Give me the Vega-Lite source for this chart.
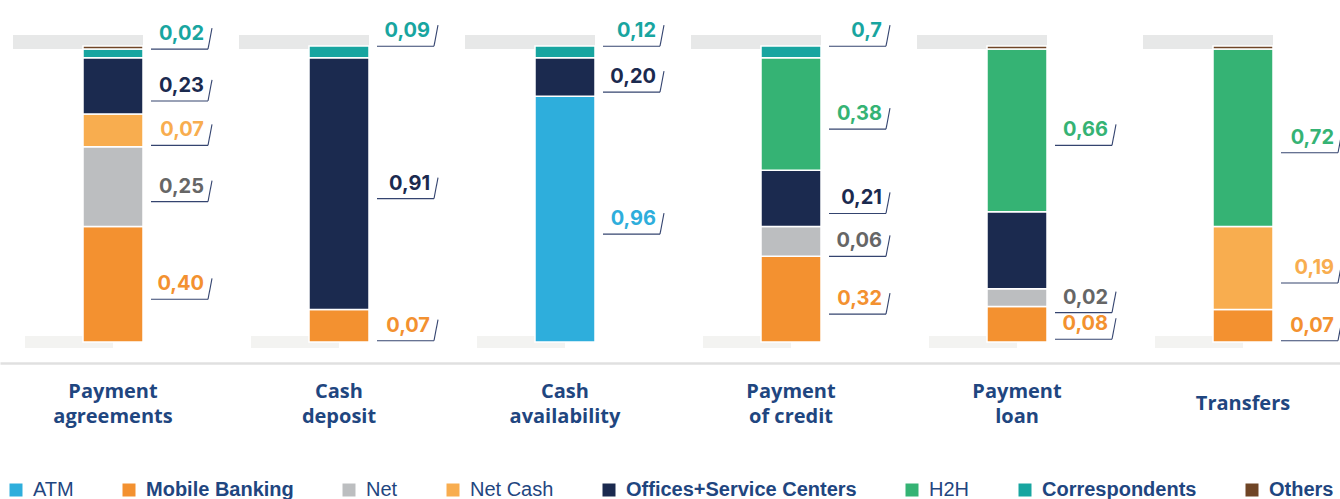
{
  "$schema": "https://vega.github.io/schema/vega-lite/v6.json",
  "autosize": {"type": "none"},
  "width": 1340,
  "height": 296,
  "padding": {"left": 0, "top": 46, "right": 0, "bottom": 157},
  "background": "white",
  "config": {"view": {"stroke": null}},
  "data": {
    "values": [
      {"cat": "Payment agreements", "channel": "Mobile Banking", "share": 0.39, "label": "0,40"},
      {"cat": "Payment agreements", "channel": "Net", "share": 0.27, "label": "0,25"},
      {"cat": "Payment agreements", "channel": "Net Cash", "share": 0.11, "label": "0,07"},
      {"cat": "Payment agreements", "channel": "Offices+Service Centers", "share": 0.19, "label": "0,23"},
      {"cat": "Payment agreements", "channel": "Correspondents", "share": 0.03, "label": "0,02"},
      {"cat": "Payment agreements", "channel": "Others", "share": 0.01},
      {"cat": "Cash deposit", "channel": "Mobile Banking", "share": 0.11, "label": "0,07"},
      {"cat": "Cash deposit", "channel": "Offices+Service Centers", "share": 0.85, "label": "0,91"},
      {"cat": "Cash deposit", "channel": "Correspondents", "share": 0.04, "label": "0,09"},
      {"cat": "Cash availability", "channel": "ATM", "share": 0.83, "label": "0,96"},
      {"cat": "Cash availability", "channel": "Offices+Service Centers", "share": 0.13, "label": "0,20"},
      {"cat": "Cash availability", "channel": "Correspondents", "share": 0.04, "label": "0,12"},
      {"cat": "Payment of credit", "channel": "Mobile Banking", "share": 0.29, "label": "0,32"},
      {"cat": "Payment of credit", "channel": "Net", "share": 0.10, "label": "0,06"},
      {"cat": "Payment of credit", "channel": "Offices+Service Centers", "share": 0.19, "label": "0,21"},
      {"cat": "Payment of credit", "channel": "H2H", "share": 0.38, "label": "0,38"},
      {"cat": "Payment of credit", "channel": "Correspondents", "share": 0.04, "label": "0,7"},
      {"cat": "Payment loan", "channel": "Mobile Banking", "share": 0.12, "label": "0,08"},
      {"cat": "Payment loan", "channel": "Net", "share": 0.06, "label": "0,02"},
      {"cat": "Payment loan", "channel": "Offices+Service Centers", "share": 0.26},
      {"cat": "Payment loan", "channel": "H2H", "share": 0.55, "label": "0,66"},
      {"cat": "Payment loan", "channel": "Others", "share": 0.01},
      {"cat": "Transfers", "channel": "Mobile Banking", "share": 0.11, "label": "0,07"},
      {"cat": "Transfers", "channel": "Net Cash", "share": 0.28, "label": "0,19"},
      {"cat": "Transfers", "channel": "H2H", "share": 0.60, "label": "0,72"},
      {"cat": "Transfers", "channel": "Others", "share": 0.01}
    ]
  },
  "transform": [
    {"calculate": "indexof(['ATM','Mobile Banking','Net','Net Cash','Offices+Service Centers','H2H','Correspondents','Others'], datum.channel)", "as": "k"},
    {"stack": "share", "groupby": ["cat"], "sort": [{"field": "k", "order": "ascending"}], "as": ["y0", "y1"]},
    {"calculate": "datum.channel == 'Correspondents' ? datum.y1 + 0.05 : (datum.y0 + datum.y1) / 2", "as": "ly"}
  ],
  "encoding": {
    "x": {
      "field": "cat",
      "type": "nominal",
      "sort": null,
      "scale": {"range": [0, 1356], "paddingInner": 0, "paddingOuter": 0},
      "axis": {
        "title": null,
        "domainColor": "#e0e0e0",
        "domainWidth": 2.5,
        "offset": 21,
        "ticks": false,
        "tickSize": 0,
        "labelPadding": {"condition": {"test": "datum.value == 'Transfers'", "value": 40}, "value": 28},
        "labelAngle": 0,
        "labelFont": "Open Sans",
        "labelFontWeight": 700,
        "labelFontSize": 20,
        "labelColor": "#1f4680",
        "labelBaseline": "middle",
        "labelLineHeight": 25,
        "labelLimit": 400,
        "labelExpr": "datum.value == 'Payment of credit' ? ['Payment', 'of credit'] : split(datum.value, ' ')"
      }
    }
  },
  "layer": [
    {
      "transform": [{"filter": "datum.y1 > 0.99"}],
      "mark": {"type": "rule", "color": "#e7e8e8", "strokeWidth": 14, "xOffset": -100, "x2Offset": 30, "yOffset": -4, "y2Offset": -4},
      "encoding": {
        "y": {"field": "y1", "type": "quantitative", "scale": {"domain": [0, 1], "nice": false, "zero": false}, "axis": null},
        "y2": {"field": "y1"},
        "x2": {"field": "cat"}
      }
    },
    {
      "transform": [{"filter": "datum.y0 == 0"}],
      "mark": {"type": "rule", "color": "#f3f3f1", "strokeWidth": 12, "xOffset": -88, "x2Offset": 0, "yOffset": 0, "y2Offset": 0},
      "encoding": {
        "y": {"field": "y0", "type": "quantitative", "axis": null},
        "y2": {"field": "y0"},
        "x2": {"field": "cat"}
      }
    },
    {
      "mark": {"type": "bar", "size": 60, "stroke": "white", "strokeWidth": 1.5},
      "encoding": {
        "y": {"field": "y0", "type": "quantitative", "scale": {"domain": [0, 1], "nice": false, "zero": false}, "axis": null},
        "y2": {"field": "y1"},
        "color": {
          "field": "channel",
          "type": "nominal",
          "scale": {
            "domain": ["ATM", "Mobile Banking", "Net", "Net Cash", "Offices+Service Centers", "H2H", "Correspondents", "Others"],
            "range": ["#2eaedc", "#f39130", "#bcbec0", "#f8ad4f", "#1b2a4f", "#35b374", "#18a5a0", "#6f4526"]
          },
          "legend": {
            "orient": "none",
            "legendX": 6,
            "legendY": 434,
            "direction": "horizontal",
            "title": null,
            "padding": 0,
            "symbolType": "square",
            "symbolSize": 169,
            "symbolStrokeWidth": 0,
            "labelFont": "Liberation Sans",
            "labelFontSize": 20,
            "labelColor": "#1f4680",
            "labelFontWeight": {"expr": "indexof(['ATM','Net','Net Cash','H2H'], datum.label) >= 0 ? 400 : 700"},
            "labelOffset": 7,
            "columnPadding": 45,
            "labelLimit": 400
          }
        }
      }
    },
    {
      "transform": [{"filter": "isValid(datum.label)"}],
      "mark": {"type": "rule", "color": "#34446f", "strokeWidth": 1.1, "xOffset": 38, "x2Offset": 95, "yOffset": 15, "y2Offset": 15},
      "encoding": {
        "y": {"field": "ly", "type": "quantitative"},
        "y2": {"field": "ly"},
        "x2": {"field": "cat"}
      }
    },
    {
      "transform": [{"filter": "isValid(datum.label)"}],
      "mark": {"type": "rule", "color": "#34446f", "strokeWidth": 1.1, "xOffset": 95, "x2Offset": 99, "yOffset": 15, "y2Offset": -6},
      "encoding": {
        "y": {"field": "ly", "type": "quantitative"},
        "y2": {"field": "ly"},
        "x2": {"field": "cat"}
      }
    },
    {
      "transform": [{"filter": "isValid(datum.label)"}],
      "mark": {"type": "text", "align": "right", "baseline": "middle", "dx": 91, "font": "Inter", "fontWeight": 700, "fontSize": 20},
      "encoding": {
        "y": {"field": "ly", "type": "quantitative"},
        "text": {"field": "label"},
        "color": {
          "field": "channel",
          "type": "nominal",
          "scale": {
            "domain": ["ATM", "Mobile Banking", "Net", "Net Cash", "Offices+Service Centers", "H2H", "Correspondents", "Others"],
            "range": ["#2eaedc", "#f39130", "#666666", "#f8ad4f", "#1b2a4f", "#35b374", "#18a5a0", "#6f4526"]
          },
          "legend": null
        }
      }
    }
  ],
  "resolve": {"scale": {"color": "independent"}}
}
